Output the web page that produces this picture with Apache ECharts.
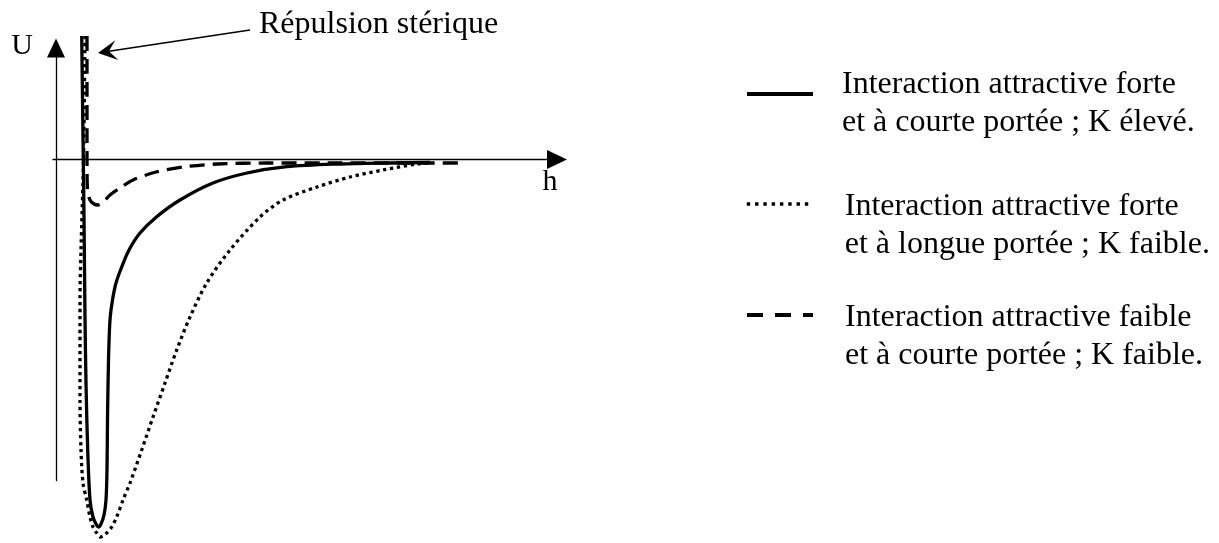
<!DOCTYPE html>
<html>
<head>
<meta charset="utf-8">
<style>
  html, body { margin: 0; padding: 0; background: #fff; }
  #main { width: 1219px; height: 543px; }
</style>
<script src="https://cdn.jsdelivr.net/npm/echarts@6/dist/echarts.min.js"></script>
</head>
<body>
<div id="main"></div>
<script>
const strongShortH = [2.57, 2.73, 2.8, 2.9, 3.0, 3.17, 3.4, 3.7, 4.0, 4.25, 4.5, 4.8, 5.0, 5.1, 5.15, 5.25, 5.4, 5.65, 6.0, 6.57, 7.3, 8.4, 10.07, 12.4, 15.7, 19.1, 23.1, 28.4, 33.4, 37.4]
const strongShortU = [12.35, -0.05, -5.75, -15.75, -22.35, -29.05, -34.05, -35.75, -36.45, -36.75, -36.45, -35.55, -34.05, -31.05, -26.05, -20.05, -16.05, -14.05, -12.35, -10.75, -9.05, -7.35, -5.72, -4.05, -2.35, -1.35, -0.72, -0.45, -0.35, -0.3]

const strongLongH = [2.9, 2.75, 2.5, 2.4, 2.4, 2.5, 2.7, 3.07, 3.4, 3.7, 4.07, 4.4, 4.7, 5.07, 5.57, 6.07, 6.7, 7.4, 8.57, 9.7, 10.9, 12.07, 13.4, 15.07, 17.4, 20.4, 22.7, 26.1, 29.4, 32.7, 36.1, 37.4]
const strongLongU = [12.35, -0.05, -9.05, -14.05, -24.05, -29.05, -32.35, -34.05, -35.75, -36.75, -37.35, -37.75, -37.65, -37.35, -36.75, -35.75, -34.05, -32.35, -29.05, -25.75, -22.35, -19.05, -15.75, -12.35, -9.05, -5.75, -4.05, -2.75, -1.75, -1.05, -0.45, -0.35]

const weakShortH = [3.1, 3.1, 3.15, 3.4, 3.8, 4.2, 4.7, 5.4, 6.4, 7.7, 10.0, 12.7, 16.1, 21.1, 27.4, 34.4, 40.5]
const weakShortU = [12.35, -0.05, -3.05, -4.05, -4.45, -4.55, -4.25, -3.55, -2.85, -2.05, -1.25, -0.75, -0.45, -0.35, -0.35, -0.35, -0.35]

const legendLabels = [
  'Interaction attractive forte\net à courte portée ; K élevé.',
  'Interaction attractive forte\net à longue portée ; K faible.',
  'Interaction attractive faible\net à courte portée ; K faible.'
]

const annotText = 'Répulsion stérique'
const annotTail = [19.4, 12.95]
const annotTip = [4.2, 10.65]

const FONT = 'Liberation Serif'

function zip(xs, ys) {
  return xs.map((x, i) => [x, ys[i]])
}

// une légende par courbe : le trait est aligné sur la première ligne du texte
function legendFor(name, top, lineStyle, gap, padLeft) {
  return {
    data: [name],
    left: 745,
    top: top,
    padding: 0,
    orient: 'vertical',
    selectedMode: false,
    itemWidth: 66,
    itemHeight: 4,
    itemStyle: { color: 'rgba(0,0,0,0)', borderWidth: 0 },
    lineStyle: lineStyle,
    formatter: function (n) {
      return '{g|}\n' + n.split('\n').map(l => '{t|' + l + '}').join('\n')
    },
    textStyle: {
      color: '#000',
      padding: [0, 0, 0, padLeft],
      rich: {
        g: { lineHeight: gap, fontSize: 10 },
        t: { fontFamily: FONT, fontSize: 32, lineHeight: 38, color: '#000' }
      }
    }
  }
}

let chart = echarts.init(document.getElementById('main'))

let option = {
  animation: false,
  backgroundColor: '#fff',
  title: {
    text: annotText,
    left: 259,
    top: 9,
    padding: 0,
    textStyle: { fontFamily: FONT, fontSize: 32, fontWeight: 'normal', color: '#000' }
  },
  legend: [
    legendFor(legendLabels[0], 51, { color: '#000', width: 4, type: 'solid' }, 20, 24),
    legendFor(legendLabels[1], 161, { color: '#000', width: 3.5, type: [3.4, 4.9], cap: 'butt' }, 43, 27),
    legendFor(legendLabels[2], 272, { color: '#000', width: 4, type: [16, 12], cap: 'butt' }, 43, 27)
  ],
  grid: { left: 53, right: 662, top: 48, bottom: 62.5 },
  xAxis: {
    type: 'value',
    min: -0.3,
    max: 50.1,
    name: 'h',
    nameLocation: 'end',
    nameGap: -7,
    nameTextStyle: { fontFamily: FONT, fontSize: 30, lineHeight: 30, color: '#000', align: 'center', verticalAlign: 'top', padding: [8, 0, 0, 0] },
    axisLine: { onZero: true, symbol: ['none', 'triangle'], symbolSize: [19, 20], lineStyle: { color: '#000', width: 1.3 } },
    axisTick: { show: false },
    axisLabel: { show: false },
    splitLine: { show: false }
  },
  yAxis: {
    type: 'value',
    min: -32.1,
    max: 11.15,
    name: 'U',
    nameLocation: 'end',
    nameGap: 1.5,
    nameTextStyle: { fontFamily: FONT, fontSize: 30, lineHeight: 30, color: '#000', align: 'right', verticalAlign: 'middle', padding: [0, 23, 0, 0] },
    axisLine: { onZero: true, symbol: ['none', 'triangle'], symbolSize: [18, 19], lineStyle: { color: '#000', width: 1.3 } },
    axisTick: { show: false },
    axisLabel: { show: false },
    splitLine: { show: false }
  },
  series: [
    {
      name: legendLabels[0],
      type: 'line',
      data: zip(strongShortH, strongShortU),
      symbol: 'none',
      smooth: 0.3,
      clip: false,
      silent: true,
      lineStyle: { color: '#000', width: 3.3 },
      itemStyle: { color: '#000' },
      z: 3
    },
    {
      name: legendLabels[1],
      type: 'line',
      data: zip(strongLongH, strongLongU),
      symbol: 'none',
      smooth: 0.3,
      clip: false,
      silent: true,
      lineStyle: { color: '#000', width: 3.3, type: [3.3, 3.7], cap: 'butt' },
      itemStyle: { color: '#000' },
      z: 2
    },
    {
      name: legendLabels[2],
      type: 'line',
      data: zip(weakShortH, weakShortU),
      symbol: 'none',
      smooth: 0.3,
      clip: false,
      silent: true,
      lineStyle: { color: '#000', width: 3.3, type: [15, 8], cap: 'butt' },
      itemStyle: { color: '#000' },
      z: 2
    }
  ]
}

chart.setOption(option)

// flèche de l'annotation, placée avec les axes
let p1 = chart.convertToPixel({ gridIndex: 0 }, annotTail)
let p2 = chart.convertToPixel({ gridIndex: 0 }, annotTip)
let dx = p2[0] - p1[0], dy = p2[1] - p1[1]
let len = Math.sqrt(dx * dx + dy * dy)
let ux = dx / len, uy = dy / len
let nx = -uy, ny = ux
let L = 19, W = 10, N = 11
let notch = [p2[0] - N * ux, p2[1] - N * uy]

chart.setOption({
  graphic: [
    {
      type: 'line',
      shape: { x1: p1[0], y1: p1[1], x2: notch[0], y2: notch[1] },
      style: { stroke: '#000', lineWidth: 1.5 },
      silent: true
    },
    {
      type: 'polygon',
      shape: {
        points: [
          p2,
          [p2[0] - L * ux + W * nx, p2[1] - L * uy + W * ny],
          notch,
          [p2[0] - L * ux - W * nx, p2[1] - L * uy - W * ny]
        ]
      },
      style: { fill: '#000' },
      silent: true
    }
  ]
})

window.onresize = chart.resize
</script>
</body>
</html>
